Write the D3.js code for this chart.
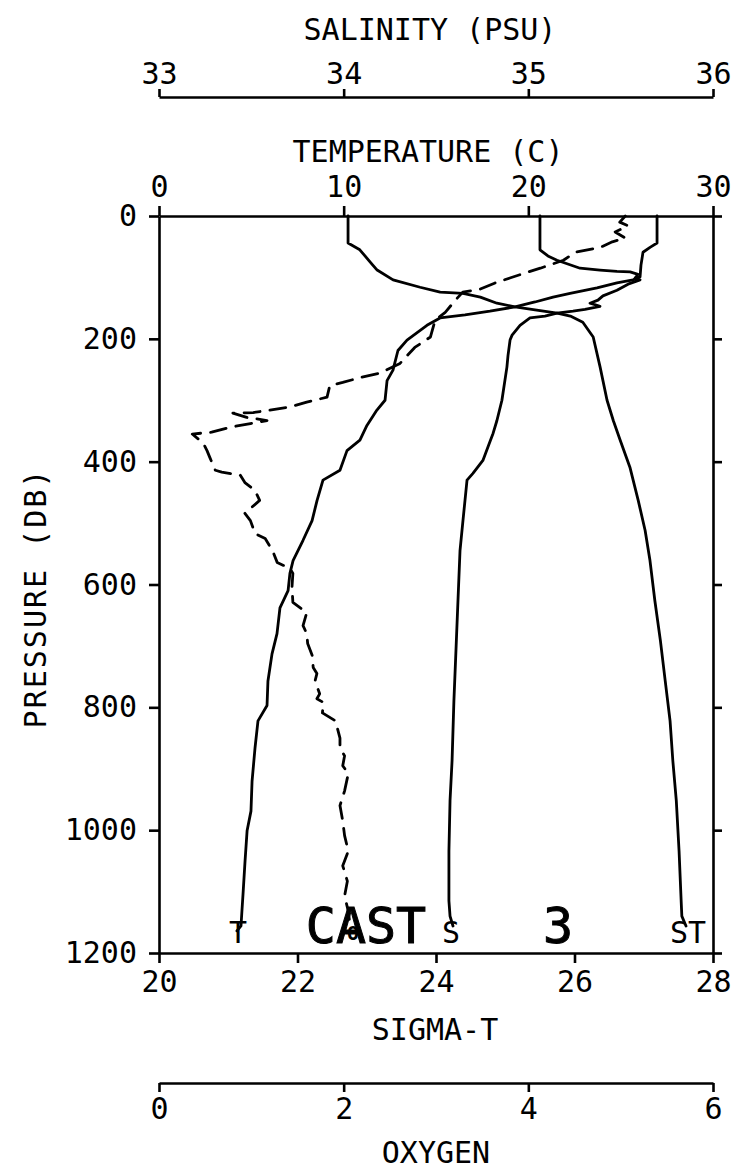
<!DOCTYPE html>
<html>
<head>
<meta charset="utf-8">
<script src="https://cdn.jsdelivr.net/npm/d3@7"></script>
<style>
  html, body { margin: 0; padding: 0; background: #fff; }
  svg { display: block; }
  text { font-family: "DejaVu Sans Mono", monospace; fill: #000; }
</style>
</head>
<body>
<svg id="chart" width="736" height="1170"></svg>
<script>
// ---------------- data ----------------
const salinityTicks = [33, 34, 35, 36];
const temperatureTicks = [0, 10, 20, 30];
const pressureTicks = [0, 200, 400, 600, 800, 1000, 1200];
const sigmaTicks = [20, 22, 24, 26, 28];
const oxygenTicks = [0, 2, 4, 6];

// Temperature (C) profile
const pressureT = [0, 44, 51, 59, 80, 99, 104, 109, 117, 126, 132, 140, 148, 155, 161, 166, 178, 202, 219, 251, 268, 300, 316, 341, 365, 382, 414, 430, 463, 496, 528, 561, 582, 610, 638, 680, 713, 757, 797, 822, 866, 920, 969, 1001, 1050, 1104, 1132, 1156, 1164];
const temperature = [26.97, 26.97, 26.59, 26.21, 26.10, 26.05, 25.67, 24.80, 23.72, 22.26, 21.34, 20.36, 19.28, 17.92, 16.57, 15.22, 14.51, 13.43, 12.94, 12.67, 12.35, 12.24, 11.80, 11.26, 10.88, 10.18, 9.80, 8.88, 8.56, 8.29, 7.80, 7.26, 7.09, 6.99, 6.55, 6.39, 6.12, 5.90, 5.85, 5.36, 5.20, 5.04, 4.98, 4.77, 4.66, 4.55, 4.49, 4.44, 4.22];

// Salinity (PSU) profile
const pressureS = [0, 55, 65, 72, 85, 88, 90, 91, 95, 101, 104, 111, 121, 130, 137, 142, 147, 152, 155, 158, 163, 166, 178, 194, 202, 227, 246, 300, 333, 354, 365, 398, 419, 430, 463, 496, 545, 626, 708, 789, 887, 952, 1034, 1115, 1140, 1156];
const salinity = [35.063, 35.063, 35.106, 35.155, 35.280, 35.388, 35.480, 35.551, 35.594, 35.578, 35.605, 35.540, 35.480, 35.404, 35.377, 35.334, 35.388, 35.307, 35.242, 35.155, 35.090, 35.009, 34.955, 34.912, 34.901, 34.890, 34.884, 34.857, 34.830, 34.809, 34.795, 34.754, 34.700, 34.668, 34.657, 34.646, 34.630, 34.619, 34.608, 34.597, 34.587, 34.576, 34.570, 34.570, 34.576, 34.592];

// Sigma-T profile
const pressureST = [0, 44, 55, 75, 88, 104, 116, 124, 126, 132, 142, 148, 153, 158, 163, 173, 197, 246, 300, 333, 365, 409, 463, 512, 561, 626, 691, 757, 822, 887, 952, 1034, 1115, 1140, 1156];
const sigmaT = [22.73, 22.73, 22.90, 23.05, 23.15, 23.38, 23.77, 24.06, 24.39, 24.64, 24.88, 25.14, 25.43, 25.75, 25.94, 26.12, 26.27, 26.37, 26.47, 26.56, 26.66, 26.80, 26.92, 27.02, 27.09, 27.16, 27.24, 27.31, 27.38, 27.42, 27.47, 27.51, 27.54, 27.55, 27.61];

// Oxygen profile
const pressureO = [0, 10, 16, 26, 36, 42, 51, 59, 72, 85, 93, 101, 109, 119, 124, 137, 157, 170, 197, 214, 240, 256, 263, 271, 276, 295, 303, 311, 316, 320, 321, 328, 333, 338, 344, 352, 355, 370, 382, 393, 414, 417, 422, 434, 447, 463, 484, 496, 517, 525, 545, 564, 574, 582, 605, 629, 646, 667, 680, 696, 716, 735, 745, 757, 778, 786, 792, 809, 822, 833, 850, 866, 879, 895, 908, 936, 960, 985, 1009, 1034, 1058, 1083, 1107, 1132, 1156];
const oxygen = [5.05, 4.99, 5.08, 4.94, 5.05, 4.91, 4.78, 4.51, 4.38, 4.13, 3.96, 3.80, 3.64, 3.48, 3.29, 3.21, 3.10, 2.99, 2.94, 2.77, 2.61, 2.39, 2.18, 1.99, 1.85, 1.82, 1.60, 1.42, 1.20, 1.02, 0.80, 0.95, 1.17, 0.99, 0.77, 0.57, 0.36, 0.48, 0.52, 0.55, 0.61, 0.68, 0.88, 0.93, 1.04, 1.09, 0.93, 0.99, 1.04, 1.15, 1.23, 1.28, 1.42, 1.45, 1.44, 1.45, 1.60, 1.56, 1.60, 1.61, 1.66, 1.67, 1.71, 1.69, 1.74, 1.71, 1.78, 1.77, 1.91, 1.93, 1.96, 1.96, 2.01, 1.99, 2.05, 2.01, 1.96, 1.99, 2.01, 2.05, 1.99, 2.04, 2.01, 2.05, 2.07];

// ---------------- layout ----------------
const L = 159, R = 713, T = 216, B = 953;
const svg = d3.select("#chart");
const FS = 30;

const yP = d3.scaleLinear().domain([0, 1200]).range([T, B]);
const xT = d3.scaleLinear().domain([0, 30]).range([L, R]);
const xS = d3.scaleLinear().domain([33, 36]).range([L, R]);
const xST = d3.scaleLinear().domain([20, 28]).range([L, R]);
const xO = d3.scaleLinear().domain([0, 6]).range([L, R]);

function styleAxis(g) {
  g.selectAll("path.domain").attr("stroke", "#000").attr("stroke-width", 2.6);
  g.selectAll(".tick line").attr("stroke", "#000").attr("stroke-width", 2.6);
  g.selectAll(".tick text").attr("font-family", '"DejaVu Sans Mono", monospace').attr("font-size", FS).attr("fill", "#000");
}

// Salinity axis (top)
svg.append("g").attr("transform", "translate(0,97)")
  .call(d3.axisTop(xS).tickValues(salinityTicks).tickFormat(d3.format("d")).tickSize(8).tickSizeOuter(0).tickPadding(5))
  .call(styleAxis);
svg.append("text").attr("x", 430).attr("y", 40).attr("text-anchor", "middle").attr("font-size", FS).text("SALINITY (PSU)");

// Temperature axis (top of box)
svg.append("g").attr("transform", `translate(0,${T})`)
  .call(d3.axisTop(xT).tickValues(temperatureTicks).tickFormat(d3.format("d")).tickSize(10).tickSizeOuter(0).tickPadding(9))
  .call(styleAxis);
svg.append("text").attr("x", 428).attr("y", 162).attr("text-anchor", "middle").attr("font-size", FS).text("TEMPERATURE (C)");

// Pressure axis (left)
svg.append("g").attr("transform", `translate(${L},0)`)
  .call(d3.axisLeft(yP).tickValues(pressureTicks).tickFormat(d3.format("d")).tickSize(10).tickSizeOuter(0).tickPadding(12))
  .call(styleAxis);
svg.append("text").attr("transform", "translate(46,598) rotate(-90)").attr("text-anchor", "middle").attr("font-size", FS).attr("letter-spacing", 2).text("PRESSURE (DB)");

// Right axis (ticks only)
svg.append("g").attr("transform", `translate(${R},0)`)
  .call(d3.axisRight(yP).tickValues(pressureTicks).tickFormat("").tickSize(9).tickSizeOuter(0))
  .call(styleAxis);

// Sigma-T axis (bottom of box)
svg.append("g").attr("transform", `translate(0,${B})`)
  .call(d3.axisBottom(xST).tickValues(sigmaTicks).tickFormat(d3.format("d")).tickSize(10).tickSizeOuter(0).tickPadding(8))
  .call(styleAxis);
svg.append("text").attr("x", 435).attr("y", 1040).attr("text-anchor", "middle").attr("font-size", FS).text("SIGMA-T");

// Oxygen axis
svg.append("g").attr("transform", "translate(0,1083)")
  .call(d3.axisBottom(xO).tickValues(oxygenTicks).tickFormat(d3.format("d")).tickSize(9).tickSizeOuter(0).tickPadding(6))
  .call(styleAxis);
svg.append("text").attr("x", 436).attr("y", 1163).attr("text-anchor", "middle").attr("font-size", FS).text("OXYGEN");

// ---------------- profiles ----------------
function profile(ps, vs, xs, dash) {
  const pts = ps.map((p, i) => [p, vs[i]]);
  const line = d3.line().x(d => xs(d[1])).y(d => yP(d[0]));
  const path = svg.append("path").datum(pts)
    .attr("d", line)
    .attr("fill", "none")
    .attr("stroke", "#000")
    .attr("stroke-width", 2.8)
    .attr("stroke-linejoin", "round")
    .attr("stroke-linecap", "round");
  if (dash) path.attr("stroke-dasharray", dash);
}
profile(pressureT, temperature, xT);
profile(pressureS, salinity, xS);
profile(pressureST, sigmaT, xST);
profile(pressureO, oxygen, xO, "16,10");

// ---------------- curve labels ----------------
svg.append("text").attr("x", 238).attr("y", 943).attr("text-anchor", "middle").attr("font-size", FS).text("T");
svg.append("text").attr("x", 451).attr("y", 943).attr("text-anchor", "middle").attr("font-size", FS).text("S");
svg.append("text").attr("x", 688).attr("y", 943).attr("text-anchor", "middle").attr("font-size", FS).text("ST");
svg.append("text").attr("x", 366).attr("y", 943).attr("text-anchor", "middle").attr("font-size", 50)
  .attr("fill", "#fff").attr("stroke", "#000").attr("stroke-width", 1).text("CAST");
svg.append("text").attr("x", 353).attr("y", 940).attr("text-anchor", "middle").attr("font-size", 20).attr("font-weight", "bold").text("O");
svg.append("text").attr("x", 558).attr("y", 943).attr("text-anchor", "middle").attr("font-size", 50)
  .attr("fill", "#fff").attr("stroke", "#000").attr("stroke-width", 1).text("3");
</script>
</body>
</html>
